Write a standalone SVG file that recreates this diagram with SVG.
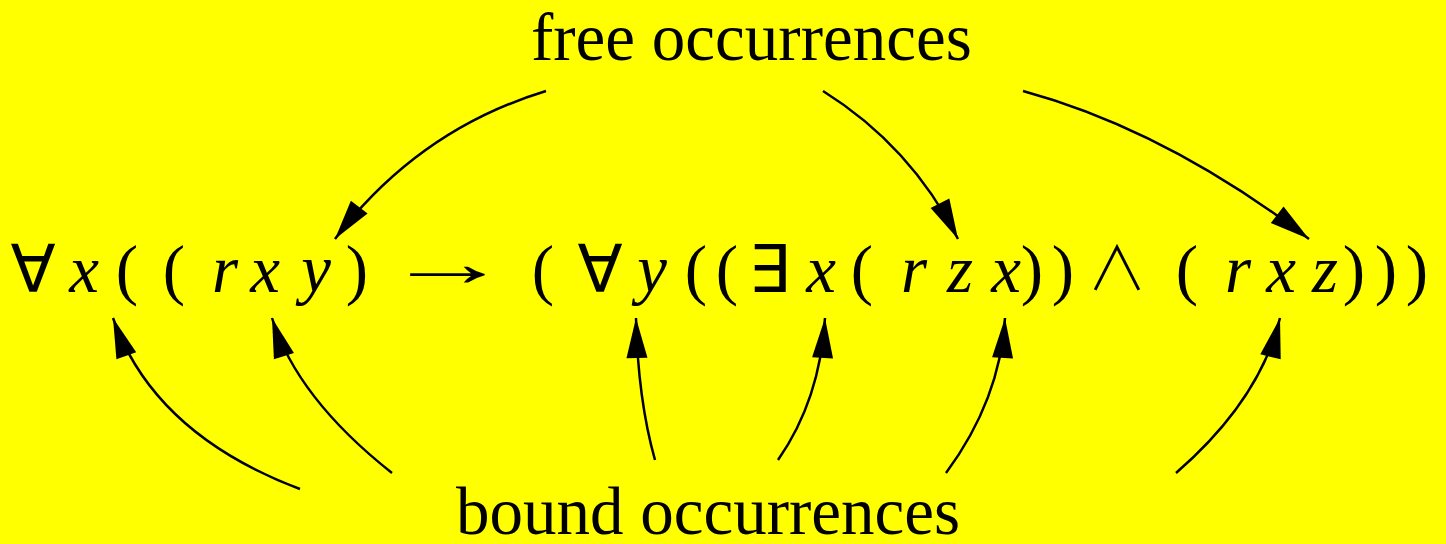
<svg xmlns="http://www.w3.org/2000/svg" width="1446" height="544" viewBox="0 0 1446 544">
<style>
.lbl{font-family:"Liberation Serif",serif;font-size:67px;fill:#000}
.it{font-family:"Liberation Serif",serif;font-style:italic;font-size:67px;fill:#000;text-anchor:middle}
.rm{font-family:"Liberation Serif",serif;font-size:67px;fill:#000;text-anchor:middle}
.sy{font-family:"DejaVu Sans",sans-serif;font-size:66px;fill:#000;text-anchor:middle}
.wedge{font-family:"Noto Sans CJK JP",sans-serif;font-weight:300;font-size:60px;fill:#000;text-anchor:middle}
.arr{fill:none;stroke:#000;stroke-width:2.5;marker-end:url(#ah)}
</style>
<defs>
<marker id="ah" markerUnits="userSpaceOnUse" orient="auto" markerWidth="44" markerHeight="24" refX="41" refY="11" viewBox="0 0 44 24" overflow="visible">
<path d="M41,11 L1,0.5 L1,21.5 Z" fill="#000"/>
</marker>
</defs>
<rect width="1446" height="544" fill="#ffff00"/>
<g id="free-label"><text class="lbl" x="531" y="60">free occurrences</text></g>
<g id="bound-label"><text class="lbl" x="456" y="534">bound occurrences</text></g>
<g id="formula">
<text class="sy" x="33" y="292">∀</text>
<text class="it" x="84" y="292">x</text>
<text class="rm" x="127" y="292">(</text>
<text class="rm" x="174" y="292">(</text>
<text class="it" x="225" y="292">r</text>
<text class="it" x="265" y="292">x</text>
<text class="it" x="316" y="292">y</text>
<text class="rm" x="357" y="292">)</text>
<text class="rm" x="447" y="286" textLength="126" lengthAdjust="spacingAndGlyphs">→</text>
<text class="rm" x="543" y="292">(</text>
<text class="sy" x="600" y="292">∀</text>
<text class="it" x="652" y="292">y</text>
<text class="rm" x="696" y="292">(</text>
<text class="rm" x="727" y="292">(</text>
<text class="sy" x="769" y="292">∃</text>
<text class="it" x="821" y="292">x</text>
<text class="rm" x="862" y="292">(</text>
<text class="it" x="914" y="292">r</text>
<text class="it" x="960" y="292">z</text>
<text class="it" x="1006" y="292">x</text>
<text class="rm" x="1032" y="292">)</text>
<text class="rm" x="1063" y="292">)</text>
<text class="wedge" x="1117" y="290">∧</text>
<text class="rm" x="1187" y="292">(</text>
<text class="it" x="1238" y="292">r</text>
<text class="it" x="1281" y="292">x</text>
<text class="it" x="1325" y="292">z</text>
<text class="rm" x="1354" y="292">)</text>
<text class="rm" x="1386" y="292">)</text>
<text class="rm" x="1417" y="292">)</text>
</g>
<g id="connectors">
<path class="arr" d="M546,91 Q418,130 335,239"/>
<path class="arr" d="M823,91 Q911,146 958,239"/>
<path class="arr" d="M1023,91 Q1166,130 1309,239"/>
<path class="arr" d="M300,489 Q154,434 113,318"/>
<path class="arr" d="M392,473 Q297,398 272,318"/>
<path class="arr" d="M655,460 Q638,400 636,318"/>
<path class="arr" d="M778,460 Q820,400 825,318"/>
<path class="arr" d="M946,473 Q1000,400 1005,318"/>
<path class="arr" d="M1176,473 Q1260,400 1280,318"/>
</g>
</svg>
